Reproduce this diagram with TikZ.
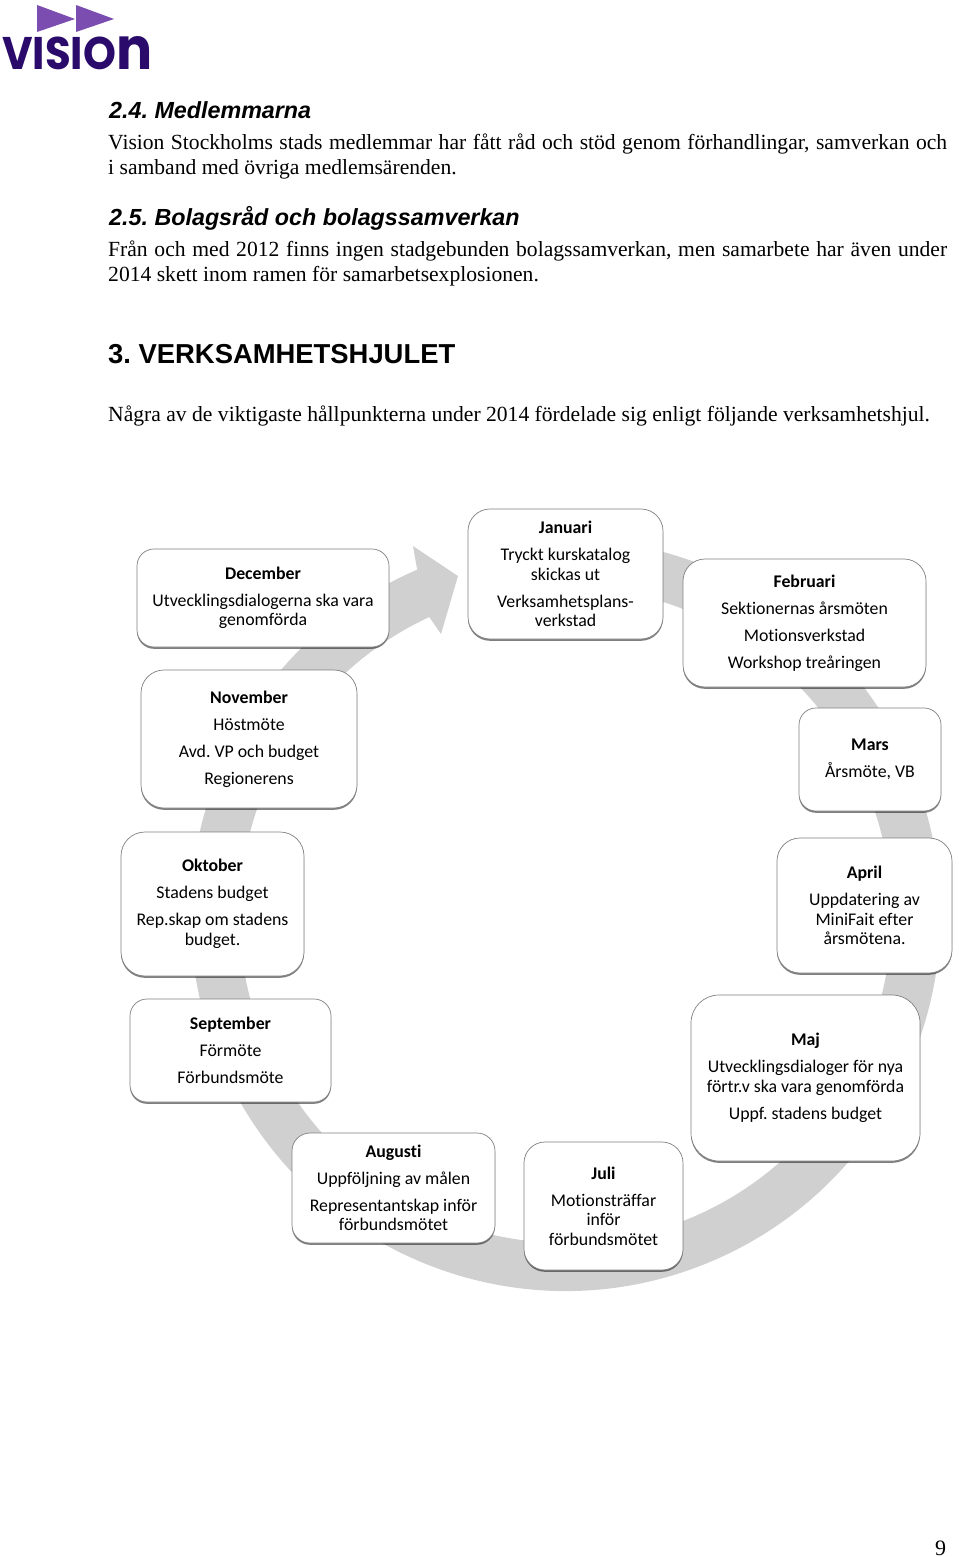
\documentclass[tikz,border=0pt]{standalone}
\usepackage{fontspec}
\usetikzlibrary{shadows}
\setmainfont{Liberation Serif}
\newfontfamily\carl[Ligatures=NoCommon]{Carlito}
\newfontfamily\headf{Liberation Sans}
\newfontfamily\logof{Poppins}
\definecolor{ringgray}{HTML}{D0D0D0}
\definecolor{logopurple}{HTML}{7B4DB0}
\definecolor{logonavy}{HTML}{2A0A6B}
\tikzset{
  month/.style={draw=black!50,line width=.7pt,fill=white,align=center,inner sep=0pt,
    font=\carl\fontsize{17.8}{19.5}\selectfont,
    drop shadow={shadow xshift=0pt,shadow yshift=-1.8pt,opacity=.5,fill=black}},
  body/.style={anchor=base west,inner sep=0pt,font=\fontsize{21.6}{25}\selectfont},
  subhead/.style={anchor=base west,inner sep=0pt,font=\headf\bfseries\itshape\fontsize{23.3}{27}\selectfont},
  mainhead/.style={anchor=base west,inner sep=0pt,font=\headf\bfseries\fontsize{27.4}{32}\selectfont},
}
\newcommand{\monthbox}[7]{% name, left, top, right, bottom, radius, text
  \node[month,rounded corners=#6pt,minimum width=#4pt-#2pt,minimum height=#5pt-#3pt]
    (#1) at ({(#2+#4)/2},{(#3+#5)/2}) {#7};}
\begin{document}
\frenchspacing
\begin{tikzpicture}[x=1pt,y=-1pt]
\useasboundingbox[fill=white] (0,0) rectangle (960,1557);
% logo
\fill[logopurple] (37,5) -- (75,19) -- (37,32) -- cycle;
\fill[logopurple] (76,5) -- (114,19) -- (76,32) -- cycle;
\node[anchor=south west,inner sep=0pt,text=logonavy] (logo) at (2,70)
  {\resizebox{150pt}{33pt}{\logof\bfseries VISIO\scalebox{1.28}{n}}};
% text
\node[subhead] (h24) at (109,119) {2.4. Medlemmarna};
\node[body] (p24a) at (108,150) {\makebox[839pt][s]{Vision Stockholms stads medlemmar har fått råd och stöd genom förhandlingar, samverkan och}};
\node[body] (p24b) at (108,175) {i samband med övriga medlemsärenden.};
\node[subhead] (h25) at (109,225) {2.5. Bolagsråd och bolagssamverkan};
\node[body] (p25a) at (108,256) {\makebox[839pt][s]{Från och med 2012 finns ingen stadgebunden bolagssamverkan, men samarbete har även under}};
\node[body] (p25b) at (108,281) {2014 skett inom ramen för samarbetsexplosionen.};
\node[mainhead] (h3) at (108,363) {3. VERKSAMHETSHJULET};
\node[body] (p3) at (108,421) {Några av de viktigaste hållpunkterna under 2014 fördelade sig enligt följande verksamhetshjul.};
\node[body,font=\fontsize{22}{26}\selectfont] (pg) at (935,1555) {9};
% wheel
\coordinate (wc) at (565.5,915);
\coordinate (headup) at (413,546);
\coordinate (headtip) at (458,576);
\coordinate (headlow) at (441,634);
\fill[ringgray] (wc) ++(113.3:375pt and 376pt)
  arc[start angle=113.3,end angle=448,x radius=375pt,y radius=376pt]
  -- ([shift={(88:326pt and 328pt)}]wc)
  arc[start angle=448,end angle=114.7,x radius=326pt,y radius=328pt]
  -- (headlow) -- (headtip) -- (headup) -- cycle;
% boxes
\monthbox{dec}{137}{549}{389}{647}{17}{\textbf{December}\\[7.5pt]Utvecklingsdialogerna ska vara\\genomförda}
\monthbox{jan}{468}{509}{663}{639}{22}{\textbf{Januari}\\[7.5pt]Tryckt kurskatalog\\skickas ut\\[7.5pt]Verksamhetsplans-\\verkstad}
\monthbox{feb}{683}{559}{926}{687}{22}{\textbf{Februari}\\[7.5pt]Sektionernas årsmöten\\[7.5pt]Motionsverkstad\\[7.5pt]Workshop treåringen}
\monthbox{mar}{799}{708}{941}{811}{17}{\textbf{Mars}\\[7.5pt]Årsmöte, VB}
\monthbox{apr}{777}{838}{952}{973}{23}{\textbf{April}\\[7.5pt]Uppdatering av\\MiniFait efter\\årsmötena.}
\monthbox{maj}{691}{995}{920}{1161}{28}{\textbf{Maj}\\[7.5pt]Utvecklingsdialoger för nya\\förtr.v ska vara genomförda\\[7.5pt]Uppf. stadens budget}
\monthbox{jul}{524}{1142}{683}{1270}{21}{\textbf{Juli}\\[7.5pt]Motionsträffar\\inför\\förbundsmötet}
\monthbox{aug}{292}{1133}{495}{1243}{18}{\textbf{Augusti}\\[7.5pt]Uppföljning av målen\\[7.5pt]Representantskap inför\\förbundsmötet}
\monthbox{sep}{130}{999}{331}{1102}{17}{\textbf{September}\\[7.5pt]Förmöte\\[7.5pt]Förbundsmöte}
\monthbox{okt}{121}{832}{304}{976}{24}{\textbf{Oktober}\\[7.5pt]Stadens budget\\[7.5pt]Rep.skap om stadens\\budget.}
\monthbox{nov}{141}{670}{357}{808}{23}{\textbf{November}\\[7.5pt]Höstmöte\\[7.5pt]Avd. VP och budget\\[7.5pt]Regionerens}
\end{tikzpicture}
\end{document}
